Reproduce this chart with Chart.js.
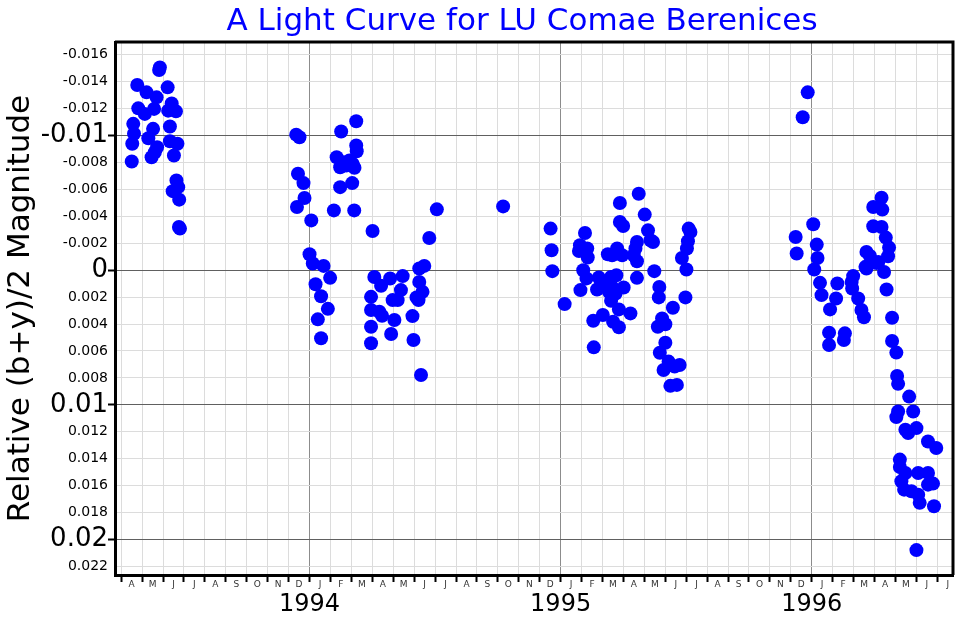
<!DOCTYPE html>
<html>
<head>
<meta charset="utf-8">
<script src="https://cdn.jsdelivr.net/npm/chart.js@4.4.0/dist/chart.umd.min.js"></script>
<style>
  html, body { margin: 0; padding: 0; background: #fff; }
  #wrap { position: relative; width: 960px; height: 624px; }
  #chart { display: block; }
  #title {
    position: absolute; left: 222px; top: 4px; width: 600px;
    text-align: center; white-space: nowrap;
    font: 31px/30px "DejaVu Sans", sans-serif; color: #0000ff;
  }
</style>
</head>
<body>
<div id="wrap">
  <canvas id="chart" width="960" height="624"></canvas>
  <div id="title">A Light Curve for LU Comae Berenices</div>
</div>
<script>
// observing seasons: [decimal year, relative (b+y)/2 magnitude]
const season1993 = [
  [1993.292, -0.00807], [1993.294, -0.00939], [1993.301, -0.01013], [1993.298, -0.01087],
  [1993.314, -0.01376], [1993.318, -0.01202], [1993.351, -0.01321], [1993.344, -0.01161],
  [1993.358, -0.00980], [1993.377, -0.01050], [1993.381, -0.01198], [1993.391, -0.01284],
  [1993.371, -0.00839], [1993.384, -0.00876], [1993.393, -0.00913], [1993.404, -0.01506],
  [1993.401, -0.01487], [1993.435, -0.01358], [1993.437, -0.01185], [1993.451, -0.01239],
  [1993.468, -0.01180], [1993.444, -0.01067], [1993.444, -0.00958], [1993.474, -0.00939],
  [1993.460, -0.00852], [1993.470, -0.00667], [1993.455, -0.00587], [1993.477, -0.00617],
  [1993.481, -0.00524], [1993.480, -0.00321], [1993.484, -0.00309]
];

const season1994 = [
  [1993.947, -0.01007], [1993.960, -0.00987], [1993.954, -0.00716], [1993.976, -0.00647],
  [1993.980, -0.00536], [1993.950, -0.00469], [1994.007, -0.00370], [1994.000, -0.00119],
  [1994.013, -0.00050], [1994.056, -0.00032], [1994.082, 0.00057], [1994.024, 0.00104],
  [1994.046, 0.00193], [1994.073, 0.00287], [1994.033, 0.00365], [1994.046, 0.00506],
  [1994.186, -0.01106], [1994.126, -0.01030], [1994.186, -0.00926], [1994.188, -0.00884],
  [1994.108, -0.00839], [1994.122, -0.00765], [1994.132, -0.00802], [1994.146, -0.00778],
  [1994.159, -0.00815], [1994.172, -0.00790], [1994.179, -0.00761], [1994.170, -0.00647],
  [1994.122, -0.00617], [1994.097, -0.00444], [1994.178, -0.00444], [1994.251, -0.00291],
  [1994.507, -0.00452], [1994.477, -0.00239], [1994.437, -0.00013], [1994.457, -0.00032],
  [1994.258, 0.00050], [1994.285, 0.00116], [1994.321, 0.00062], [1994.371, 0.00044],
  [1994.364, 0.00148], [1994.437, 0.00087], [1994.450, 0.00161], [1994.245, 0.00198],
  [1994.331, 0.00222], [1994.351, 0.00222], [1994.426, 0.00202], [1994.434, 0.00222],
  [1994.245, 0.00296], [1994.278, 0.00309], [1994.289, 0.00339], [1994.338, 0.00370],
  [1994.410, 0.00341], [1994.245, 0.00420], [1994.325, 0.00474], [1994.245, 0.00543],
  [1994.414, 0.00519], [1994.444, 0.00778]
];

const season1995 = [
  [1994.771, -0.00474],
  [1994.960, -0.00309], [1994.964, -0.00148], [1994.967, 0.00007], [1995.016, 0.00252],
  [1995.097, -0.00276], [1995.077, -0.00185], [1995.073, -0.00143], [1995.106, -0.00161],
  [1995.108, -0.00094], [1995.090, 0.00000], [1995.103, 0.00061], [1995.079, 0.00148],
  [1995.152, 0.00054], [1995.145, 0.00143], [1995.130, 0.00376], [1995.132, 0.00573],
  [1995.168, 0.00333], [1995.188, -0.00119], [1995.205, -0.00111], [1995.225, -0.00161],
  [1995.245, -0.00111], [1995.179, 0.00099], [1995.201, 0.00050], [1995.222, 0.00037],
  [1995.205, 0.00124], [1995.192, 0.00161], [1995.219, 0.00173], [1995.251, 0.00128],
  [1995.201, 0.00227], [1995.232, 0.00291], [1995.209, 0.00383], [1995.232, 0.00424],
  [1995.278, 0.00321], [1995.236, -0.00499], [1995.236, -0.00358], [1995.249, -0.00328],
  [1995.311, -0.00568], [1995.335, -0.00413], [1995.348, -0.00296], [1995.304, -0.00210],
  [1995.298, -0.00161], [1995.291, -0.00111], [1995.304, -0.00067], [1995.304, 0.00057],
  [1995.358, -0.00222], [1995.368, -0.00210], [1995.373, 0.00007], [1995.393, 0.00124],
  [1995.391, 0.00202], [1995.447, 0.00279], [1995.404, 0.00358], [1995.417, 0.00402],
  [1995.387, 0.00420], [1995.417, 0.00539], [1995.395, 0.00613], [1995.430, 0.00679],
  [1995.410, 0.00741], [1995.454, 0.00716], [1995.474, 0.00704], [1995.437, 0.00859],
  [1995.463, 0.00852], [1995.510, -0.00309], [1995.517, -0.00284], [1995.507, -0.00215],
  [1995.503, -0.00161], [1995.483, -0.00091], [1995.501, -0.00005], [1995.497, 0.00202]
];

const season1996 = [
  [1995.984, -0.01321], [1995.964, -0.01136], [1996.006, -0.00341], [1995.936, -0.00247],
  [1995.940, -0.00124], [1996.020, -0.00190], [1996.023, -0.00091], [1996.010, -0.00005],
  [1996.033, 0.00094], [1996.039, 0.00185], [1996.102, 0.00099], [1996.097, 0.00210],
  [1996.073, 0.00291], [1996.069, 0.00464], [1996.069, 0.00556], [1996.132, 0.00469],
  [1996.128, 0.00519], [1996.165, 0.00044], [1996.159, 0.00087], [1996.161, 0.00136],
  [1996.185, 0.00210], [1996.198, 0.00296], [1996.208, 0.00350], [1996.218, -0.00136],
  [1996.232, -0.00106], [1996.214, -0.00025], [1996.218, -0.00013], [1996.245, -0.00469],
  [1996.245, -0.00326], [1996.258, -0.00054], [1996.278, -0.00538], [1996.281, -0.00450],
  [1996.278, -0.00321], [1996.295, -0.00242], [1996.308, -0.00168], [1996.304, -0.00104],
  [1996.265, -0.00061], [1996.288, 0.00013], [1996.298, 0.00143], [1996.320, 0.00353],
  [1996.320, 0.00526], [1996.337, 0.00612], [1996.340, 0.00785], [1996.344, 0.00844],
  [1996.388, 0.00939], [1996.344, 0.01050], [1996.337, 0.01091], [1996.404, 0.01050],
  [1996.373, 0.01185], [1996.384, 0.01210], [1996.417, 0.01173], [1996.463, 0.01272],
  [1996.496, 0.01321], [1996.351, 0.01407], [1996.351, 0.01462], [1996.373, 0.01506],
  [1996.357, 0.01568], [1996.368, 0.01630], [1996.397, 0.01642], [1996.424, 0.01506],
  [1996.463, 0.01506], [1996.463, 0.01593], [1996.483, 0.01585], [1996.424, 0.01667],
  [1996.430, 0.01728], [1996.487, 0.01753], [1996.417, 0.02079]
];

const magTicks = [-0.016, -0.014, -0.012, -0.01, -0.008, -0.006, -0.004, -0.002, 0,
  0.002, 0.004, 0.006, 0.008, 0.01, 0.012, 0.014, 0.016, 0.018, 0.02, 0.022];
const monthLetters = ['J', 'F', 'M', 'A', 'M', 'J', 'J', 'A', 'S', 'O', 'N', 'D'];
const yearTicks = [1994, 1995, 1996];

const X_MIN = 1993.2253, X_MAX = 1996.5626;
const Y_MIN = -0.01695, Y_MAX = 0.02264;

// month labels sit mid-month, grid lines (offset) fall on month starts
const monthTicks = [];
for (let k = 3; k <= 42; k++) monthTicks.push(1993 + (k + 0.5) / 12);

const monthOf = v => Math.floor((v - 1993) * 12 + 1e-6) % 12;
const isMajorMag = v => v !== undefined && Math.abs(v * 100 - Math.round(v * 100)) < 1e-9;

const toPoints = arr => arr.map(([t, m]) => ({ x: t, y: m }));

const framePlugin = {
  id: 'frame',
  beforeDatasetsDraw(chart) {
    const { ctx, chartArea: a } = chart;
    ctx.save();
    ctx.strokeStyle = '#000';
    ctx.lineWidth = 3;
    ctx.beginPath();
    ctx.moveTo(a.left, a.top);
    ctx.lineTo(a.right, a.top);
    ctx.lineTo(a.right, a.bottom);
    ctx.stroke();
    ctx.restore();
  }
};

Chart.defaults.font.family = '"DejaVu Sans", sans-serif';

const seasons = [season1993, season1994, season1995, season1996];

new Chart(document.getElementById('chart').getContext('2d'), {
  type: 'scatter',
  data: {
    datasets: seasons.map((s, i) => ({
      label: 'season ' + (i + 1),
      data: toPoints(s),
      backgroundColor: '#0000ff',
      borderWidth: 0,
      pointRadius: 7,
      pointHoverRadius: 7
    }))
  },
  options: {
    responsive: false,
    animation: false,
    devicePixelRatio: 1,
    layout: { padding: { top: 42, right: 5, bottom: 0, left: 0 } },
    plugins: { legend: { display: false }, tooltip: { enabled: false } },
    scales: {
      x: {
        type: 'linear', position: 'bottom', min: X_MIN, max: X_MAX, weight: 0,
        afterBuildTicks: s => { s.ticks = monthTicks.map(v => ({ value: v })); },
        afterFit: s => { s.height = 15; },
        grid: {
          offset: true,
          color: ctx => (ctx.tick && monthOf(ctx.tick.value) === 0) ? '#8c8c8c' : '#dcdcdc',
          lineWidth: 1,
          tickLength: 7,
          tickWidth: 2,
          tickColor: '#000'
        },
        border: { color: '#000', width: 3 },
        ticks: {
          autoSkip: false, maxRotation: 0, padding: -3, color: '#333',
          font: { size: 9 },
          callback: v => monthLetters[monthOf(v)]
        }
      },
      x2: {
        type: 'linear', position: 'bottom', min: X_MIN, max: X_MAX, weight: 1,
        afterBuildTicks: s => { s.ticks = yearTicks.map(v => ({ value: v })); },
        afterFit: s => { s.height = 34; },
        grid: { display: false, drawTicks: false },
        border: { display: false },
        ticks: { autoSkip: false, maxRotation: 0, padding: 0, color: '#000', font: { size: 24 }, callback: v => String(v) }
      },
      y: {
        type: 'linear', reverse: true, min: Y_MIN, max: Y_MAX,
        afterBuildTicks: s => { s.ticks = magTicks.map(v => ({ value: v })); },
        afterFit: s => { s.width = 115; },
        grid: {
          color: ctx => (ctx.tick && isMajorMag(ctx.tick.value)) ? '#606060' : '#dcdcdc',
          lineWidth: 1,
          tickLength: 7,
          tickWidth: 2,
          tickColor: ctx => (ctx.tick && isMajorMag(ctx.tick.value)) ? '#000' : 'rgba(0,0,0,0)'
        },
        border: { color: '#000', width: 3 },
        ticks: {
          autoSkip: false, padding: 0, color: '#000',
          font: ctx => ({ size: (ctx.tick && isMajorMag(ctx.tick.value)) ? 26 : 14 }),
          callback: v => v === 0 ? '0' : String(Number(v.toFixed(3)))
        },
        title: {
          display: true, text: 'Relative (b+y)/2 Magnitude', color: '#000',
          font: { size: 31 }, padding: { top: 2, bottom: 0 }
        }
      }
    }
  },
  plugins: [framePlugin]
});
</script>
</body>
</html>
